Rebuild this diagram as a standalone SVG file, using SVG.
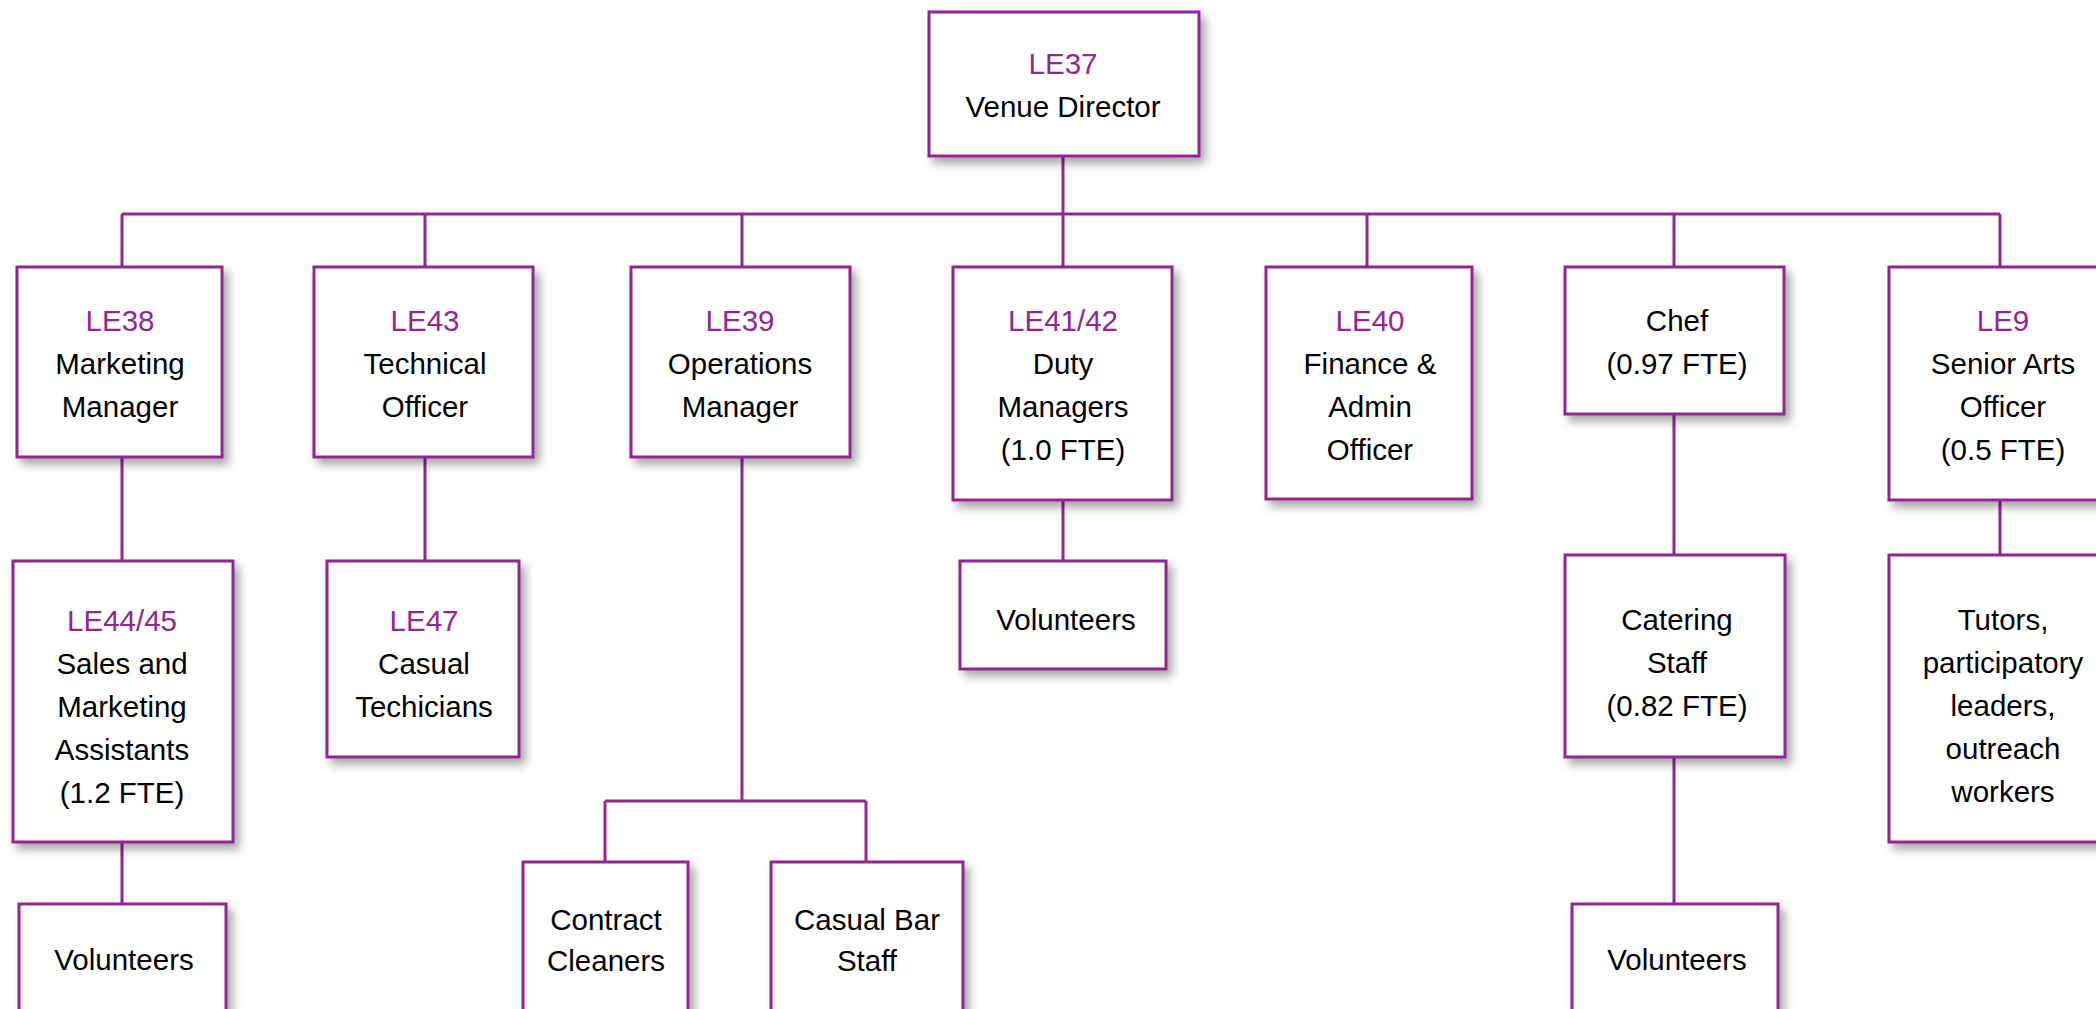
<svg xmlns="http://www.w3.org/2000/svg" width="2096" height="1009" viewBox="0 0 2096 1009">
<style>
.box{fill:#fff;stroke:#922790;stroke-width:3;filter:url(#sh)}
.ln{fill:none;stroke:#922790;stroke-width:3}
text{font-family:"Liberation Sans",Arial,sans-serif;font-size:29.5px;text-anchor:middle;fill:#000}
.id{fill:#922790}
</style>
<defs>
<filter id="sh" x="-20%" y="-20%" width="150%" height="150%">
<feDropShadow dx="5" dy="6" stdDeviation="5" flood-color="#000" flood-opacity="0.35"/>
</filter>
</defs>
<rect width="2096" height="1009" fill="#fff"/>
<g id="connectors" class="ln">
<path class="ln" d="M1063 156V214M122 214H2000M122 214V267M425 214V267M742 214V267M1063 214V267M1367 214V267M1674 214V267M2000 214V267"/>
<path class="ln" d="M122 457V561M425 457V561M742 457V801M605 801H866M605 801V862M866 801V862M1063 500V561M1674 414V555M2000 500V555M122 842V904M1674 757V904"/>
</g>
<g id="n-le37"><rect class="box" x="929" y="12" width="270" height="144"/><text x="1063" y="74" class="id">LE37</text><text x="1063" y="117">Venue Director</text></g>
<g id="n-le38"><rect class="box" x="17" y="267" width="205" height="190"/><text x="120" y="331" class="id">LE38</text><text x="120" y="374">Marketing</text><text x="120" y="417">Manager</text></g>
<g id="n-le43"><rect class="box" x="314" y="267" width="219" height="190"/><text x="425" y="331" class="id">LE43</text><text x="425" y="374">Technical</text><text x="425" y="417">Officer</text></g>
<g id="n-le39"><rect class="box" x="631" y="267" width="219" height="190"/><text x="740" y="331" class="id">LE39</text><text x="740" y="374">Operations</text><text x="740" y="417">Manager</text></g>
<g id="n-le41"><rect class="box" x="953" y="267" width="219" height="233"/><text x="1063" y="331" class="id">LE41/42</text><text x="1063" y="374">Duty</text><text x="1063" y="417">Managers</text><text x="1063" y="460">(1.0 FTE)</text></g>
<g id="n-le40"><rect class="box" x="1266" y="267" width="206" height="232"/><text x="1370" y="331" class="id">LE40</text><text x="1370" y="374">Finance &amp;</text><text x="1370" y="417">Admin</text><text x="1370" y="460">Officer</text></g>
<g id="n-chef"><rect class="box" x="1565" y="267" width="219" height="147"/><text x="1677" y="331">Chef</text><text x="1677" y="374">(0.97 FTE)</text></g>
<g id="n-le9"><rect class="box" x="1889" y="267" width="222" height="233"/><text x="2003" y="331" class="id">LE9</text><text x="2003" y="374">Senior Arts</text><text x="2003" y="417">Officer</text><text x="2003" y="460">(0.5 FTE)</text></g>
<g id="n-le44"><rect class="box" x="13" y="561" width="220" height="281"/><text x="122" y="631" class="id">LE44/45</text><text x="122" y="674">Sales and</text><text x="122" y="717">Marketing</text><text x="122" y="760">Assistants</text><text x="122" y="803">(1.2 FTE)</text></g>
<g id="n-le47"><rect class="box" x="327" y="561" width="192" height="196"/><text x="424" y="631" class="id">LE47</text><text x="424" y="674">Casual</text><text x="424" y="717">Techicians</text></g>
<g id="n-vol-duty"><rect class="box" x="960" y="561" width="206" height="108"/><text x="1066" y="630">Volunteers</text></g>
<g id="n-catering"><rect class="box" x="1565" y="555" width="220" height="202"/><text x="1677" y="630">Catering</text><text x="1677" y="673">Staff</text><text x="1677" y="716">(0.82 FTE)</text></g>
<g id="n-tutors"><rect class="box" x="1889" y="555" width="222" height="287"/><text x="2003" y="630">Tutors,</text><text x="2003" y="673">participatory</text><text x="2003" y="716">leaders,</text><text x="2003" y="759">outreach</text><text x="2003" y="802">workers</text></g>
<g id="n-vol-mkt"><rect class="box" x="19" y="904" width="207" height="120"/><text x="124" y="970">Volunteers</text></g>
<g id="n-cleaners"><rect class="box" x="523" y="862" width="165" height="160"/><text x="606" y="930">Contract</text><text x="606" y="971">Cleaners</text></g>
<g id="n-bar"><rect class="box" x="771" y="862" width="192" height="160"/><text x="867" y="930">Casual Bar</text><text x="867" y="971">Staff</text></g>
<g id="n-vol-cat"><rect class="box" x="1572" y="904" width="206" height="120"/><text x="1677" y="970">Volunteers</text></g>
</svg>
